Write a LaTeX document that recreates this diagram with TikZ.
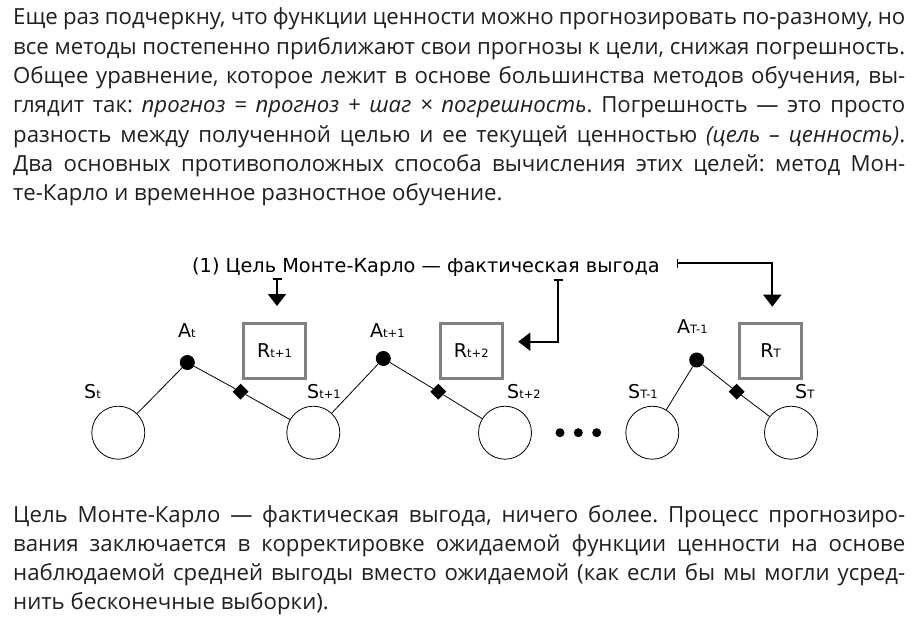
\documentclass[tikz,border=0pt]{standalone}
\usepackage{fontspec}
\setmainfont{Open Sans}
\newfontfamily\diagfont{DejaVu Sans}
\usetikzlibrary{shapes.geometric,arrows.meta}
\definecolor{textc}{RGB}{35,31,32}
\definecolor{boxgray}{RGB}{128,128,128}
\frenchspacing
\newcommand\jline[1]{\hbox to 892pt{#1}}
\newcommand\nline[1]{\hbox{#1}}
\newcommand\lab[2]{{\diagfont\fontsize{19}{19}\selectfont #1}{\diagfont\fontsize{11.5}{11.5}\selectfont #2}}
\begin{document}
\begin{tikzpicture}[x=1pt,y=-1pt,
  body/.style={anchor=base west,inner sep=0pt,text=textc,font=\fontsize{22.2}{29}\selectfont\frenchspacing},
  state/.style={circle,draw,minimum size=53pt,inner sep=0pt,line width=0.8pt},
  actdot/.style={circle,fill,minimum size=15pt,inner sep=0pt},
  dmd/.style={diamond,fill,minimum size=16pt,inner sep=0pt},
  edot/.style={circle,fill,minimum size=9pt,inner sep=0pt},
  rbox/.style={draw=boxgray,line width=3pt,minimum width=62pt,minimum height=55pt,inner sep=0pt},
  conn/.style={line width=0.8pt},
  marrow/.style={line width=2pt,{Bar[width=9pt,line width=1.6pt]}-{Triangle[width=18pt,length=12pt]}},
  lbl/.style={anchor=base west,inner sep=0pt}
]
\useasboundingbox[fill=white] (0,0) rectangle (917,636);

% top paragraph
\node[body] (p1) at (13,25) {\jline{Еще раз подчеркну, что функции ценности можно прогнозировать по-разному, но}};
\node[body] (p2) at (13,54.3) {\jline{все методы постепенно приближают свои прогнозы к цели, снижая погрешность.}};
\node[body] (p3) at (13,83.6) {\jline{Общее уравнение, которое лежит в основе большинства методов обучения, вы-}};
\node[body] (p4) at (13,112.9) {\jline{глядит так: \textit{прогноз = прогноз + шаг × погрешность}. Погрешность — это просто}};
\node[body] (p5) at (13,142.2) {\jline{разность между полученной целью и ее текущей ценностью \textit{(цель – ценность)}.}};
\node[body] (p6) at (13,171.5) {\jline{Два основных противоположных способа вычисления этих целей: метод Мон-}};
\node[body] (p7) at (13,200.8) {\nline{те-Карло и временное разностное обучение.}};

% bottom paragraph
\node[body] (q1) at (13,522.3) {\jline{Цель Монте-Карло — фактическая выгода, ничего более. Процесс прогнозиро-}};
\node[body] (q2) at (13,551.3) {\jline{вания заключается в корректировке ожидаемой функции ценности на основе}};
\node[body] (q3) at (13,580.3) {\jline{наблюдаемой средней выгоды вместо ожидаемой (как если бы мы могли усред-}};
\node[body] (q4) at (13,609.3) {\nline{нить бесконечные выборки).}};

% title
\node[lbl] (title) at (192,272) {\diagfont\fontsize{19.3}{19.3}\selectfont (1) Цель Монте-Карло — фактическая выгода};

% states
\node[state] (s1) at (118.3,432.7) {};
\node[state] (s2) at (313.3,432.7) {};
\node[state] (s3) at (505,432.7) {};
\node[state] (s4) at (652.3,432.7) {};
\node[state] (s5) at (791,432.7) {};

% actions
\node[actdot] (a1) at (187.3,362.5) {};
\node[actdot] (a2) at (383.3,358.5) {};
\node[actdot] (a3) at (696.7,360) {};

% diamonds
\node[dmd] (d1) at (240.6,391.7) {};
\node[dmd] (d2) at (438.3,391.7) {};
\node[dmd] (d3) at (736.7,391.7) {};

% reward boxes
\node[rbox] (r1) at (274.5,351) {\lab{R}{t+1}};
\node[rbox] (r2) at (471.3,351) {\lab{R}{t+2}};
\node[rbox] (r3) at (770.5,351) {\lab{R}{T}};

% ellipsis
\node[edot] (e1) at (560,432.7) {};
\node[edot] (e2) at (578.3,432.7) {};
\node[edot] (e3) at (596.7,432.7) {};

% connectors
\draw[conn] (s1) -- (a1);
\draw[conn] (a1) -- (d1) -- (s2);
\draw[conn] (s2) -- (a2);
\draw[conn] (a2) -- (d2) -- (s3);
\draw[conn] (s4) -- (a3);
\draw[conn] (a3) -- (d3) -- (s5);

% labels
\node[lbl] (ls1) at (84,398) {\lab{S}{t}};
\node[lbl] (la1) at (178,337) {\lab{A}{t}};
\node[lbl] (ls2) at (307,398) {\lab{S}{t+1}};
\node[lbl] (la2) at (370,337) {\lab{A}{t+1}};
\node[lbl] (ls3) at (507,398) {\lab{S}{t+2}};
\node[lbl] (ls4) at (628,398) {\lab{S}{T-1}};
\node[lbl] (la3) at (677,333) {\lab{A}{T-1}};
\node[lbl] (ls5) at (795,398) {\lab{S}{T}};

% arrows
\coordinate (b1s) at (277,278);
\coordinate (b1e) at (277,306);
\draw[marrow] (b1s) -- (b1e);
\coordinate (b2s) at (558.3,279.3);
\coordinate (b2e) at (518.3,341.7);
\draw[marrow] (b2s) |- (b2e);
\coordinate (b3s) at (676.7,263.3);
\coordinate (b3e) at (772.3,306.7);
\draw[marrow] (b3s) -| (b3e);
\end{tikzpicture}
\end{document}
